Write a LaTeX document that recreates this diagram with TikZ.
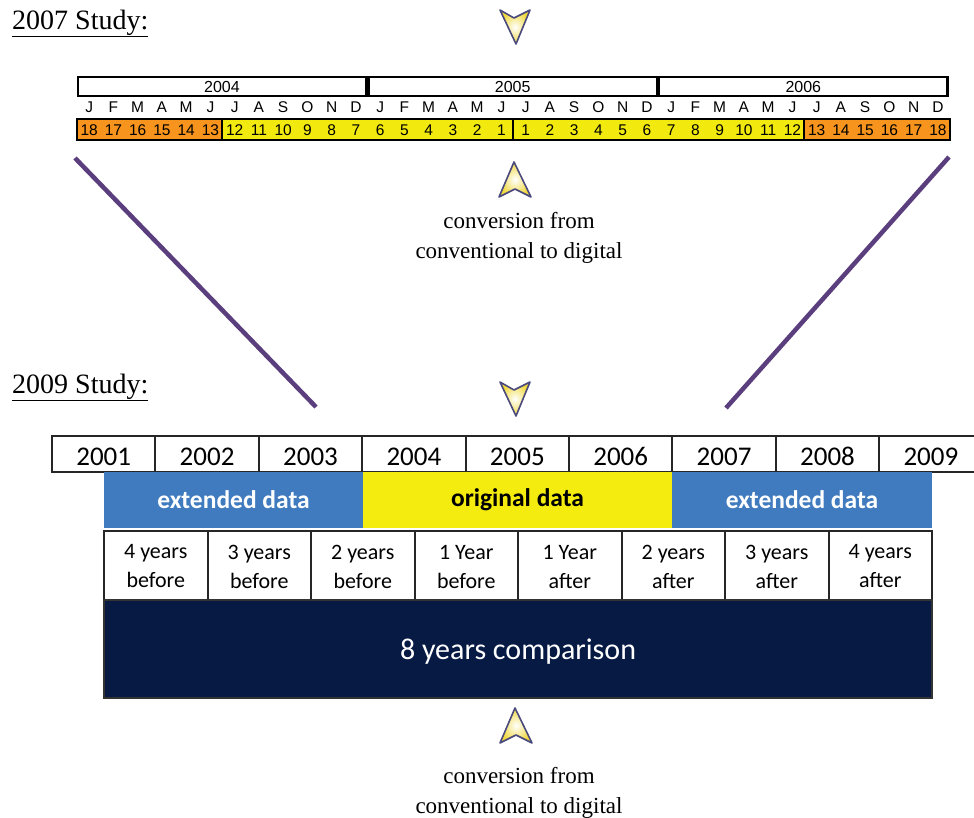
\documentclass[tikz,border=0pt]{standalone}
\usepackage{fontspec}
\setmainfont{Liberation Serif}
\newfontfamily\arialf{Liberation Sans}
\newfontfamily\calibf{Carlito}
\definecolor{tlorange}{HTML}{F7941D}
\definecolor{tlyellow}{HTML}{F2EA0F}
\definecolor{extblue}{HTML}{3F7BBE}
\definecolor{origyellow}{HTML}{F3EC0E}
\definecolor{navyc}{HTML}{061A44}
\definecolor{linepurple}{HTML}{5A3E7D}
\definecolor{arrowedge}{HTML}{4A4A7E}
\definecolor{arrowfill}{HTML}{F0D83A}
\tikzset{
  studylabel/.style={anchor=base west, inner sep=0pt, font=\fontsize{28}{30}\selectfont},
  convtext/.style={align=center, inner sep=0pt, font=\fontsize{23}{30}\selectfont},
  yearbox/.style={draw=black, line width=2.5pt, minimum width=288.5pt, minimum height=19pt, inner sep=0pt, outer sep=0pt, font=\arialf\fontsize{16}{16}\selectfont},
  monthlbl/.style={inner sep=0pt, font=\arialf\fontsize{15.5}{15.5}\selectfont},
  numcell/.style={draw=black, line width=2.5pt, minimum height=21pt, inner sep=0pt, outer sep=0pt},
  numlbl/.style={inner sep=0pt, font=\arialf\fontsize{15.5}{15.5}\selectfont},
  purpleline/.style={draw=linepurple, line width=4.5pt},
  yrcell/.style={draw=black!85, line width=2pt, minimum width=103.4pt, minimum height=36pt, inner sep=0pt, outer sep=0pt, text height=22pt, text depth=0pt, font=\calibf\fontsize{27}{27}\selectfont},
  datacell/.style={minimum height=56pt, inner sep=0pt, outer sep=0pt, font=\calibf\bfseries\fontsize{25.5}{25.5}\selectfont},
  lblcell/.style={draw=black!85, line width=2pt, minimum width=103.5pt, minimum height=71pt, inner sep=0pt, outer sep=0pt, align=center, font=\calibf\fontsize{22}{29}\selectfont},
  navdown/.pic={
    \shade[inner color=white, outer color=arrowfill] (-15,-17) -- (-1,-9) -- (15,-17) -- (1,17) -- cycle;
    \draw[arrowedge, line width=1.6pt, line join=round] (-15,-17) -- (-1,-9) -- (15,-17) -- (1,17) -- cycle;
  },
  navup/.pic={
    \shade[inner color=white, outer color=arrowfill] (-1,-18) -- (-16,17) -- (0,9) -- (16,17) -- cycle;
    \draw[arrowedge, line width=1.6pt, line join=round] (-1,-18) -- (-16,17) -- (0,9) -- (16,17) -- cycle;
  }
}
\begin{document}
\begin{tikzpicture}[x=1pt,y=-1pt]
\useasboundingbox (0,0) rectangle (974,817);
\fill[white] (0,0) rectangle (974,817);

% ---------- 2007 study ----------
\node[studylabel] (s2007) at (12,29) {\underline{2007 Study:}};
\pic (arr1) at (515,27) {navdown};

\node[yearbox] (y2004) at (222.0,86.5) {2004};
\node[yearbox] (y2005) at (512.7,86.5) {2005};
\node[yearbox] (y2006) at (803.3,86.5) {2006};

\foreach \m [count=\i from 0] in {J,F,M,A,M,J,J,A,S,O,N,D,J,F,M,A,M,J,J,A,S,O,N,D,J,F,M,A,M,J,J,A,S,O,N,D}
  \node[monthlbl] (m\i) at ({77+24.25*(\i+0.5)},107) {\m};

\node[numcell, fill=tlorange, minimum width=145.5pt] (c1) at (149.75,129.5) {};
\node[numcell, fill=tlyellow, minimum width=291pt] (c2) at (367.5,129.5) {};
\node[numcell, fill=tlyellow, minimum width=291pt] (c3) at (658.5,129.5) {};
\node[numcell, fill=tlorange, minimum width=146pt] (c4) at (877,129.5) {};

\foreach \n [count=\i from 0] in {18,17,16,15,14,13,12,11,10,9,8,7,6,5,4,3,2,1,1,2,3,4,5,6,7,8,9,10,11,12,13,14,15,16,17,18}
  \node[numlbl] (n\i) at ({77+24.25*(\i+0.5)},130) {\n};

\pic (arr2) at (515,180) {navup};
\node[convtext] (conv1) at (519,238) {conversion from\\conventional to digital};

% ---------- connecting lines ----------
\coordinate (l1a) at (75,158);
\coordinate (l1b) at (316,407);
\coordinate (l2a) at (949,157);
\coordinate (l2b) at (726,408);
\draw[purpleline] (l1a) -- (l1b);
\draw[purpleline] (l2a) -- (l2b);

% ---------- 2009 study ----------
\node[studylabel] (s2009) at (12,393) {\underline{2009 Study:}};
\pic (arr3) at (515,399) {navdown};

\foreach \yr [count=\i from 0] in {2001,2002,2003,2004,2005,2006,2007,2008,2009}
  \node[yrcell] (yr\yr) at ({52+103.4*(\i+0.5)},454) {\yr};

\node[datacell, fill=extblue, text=white, minimum width=259pt] (ext1) at (233.5,500) {extended data};
\node[datacell, fill=origyellow, text=black, minimum width=309pt] (orig) at (517.5,500) {original data};
\node[datacell, fill=extblue, text=white, minimum width=260pt] (ext2) at (802,500) {extended data};

\foreach \t [count=\i from 0] in {{4 years\\before},{3 years\\before},{2 years\\before},{1 Year\\before},{1 Year\\after},{2 years\\after},{3 years\\after},{4 years\\after}}
  \node[lblcell] (lb\i) at ({104+103.5*(\i+0.5)},566.5) {\t};

\node[draw=black!80, line width=2pt, fill=navyc, minimum width=828pt, minimum height=98pt, inner sep=0pt, outer sep=0pt] (cmp) at (518,649) {};
\node[text=white, inner sep=0pt, font=\calibf\fontsize{30}{30}\selectfont] (cmptext) at (518,652) {8 years comparison};

\pic (arr4) at (516,726) {navup};
\node[convtext] (conv2) at (519,793) {conversion from\\conventional to digital};
\end{tikzpicture}
\end{document}
